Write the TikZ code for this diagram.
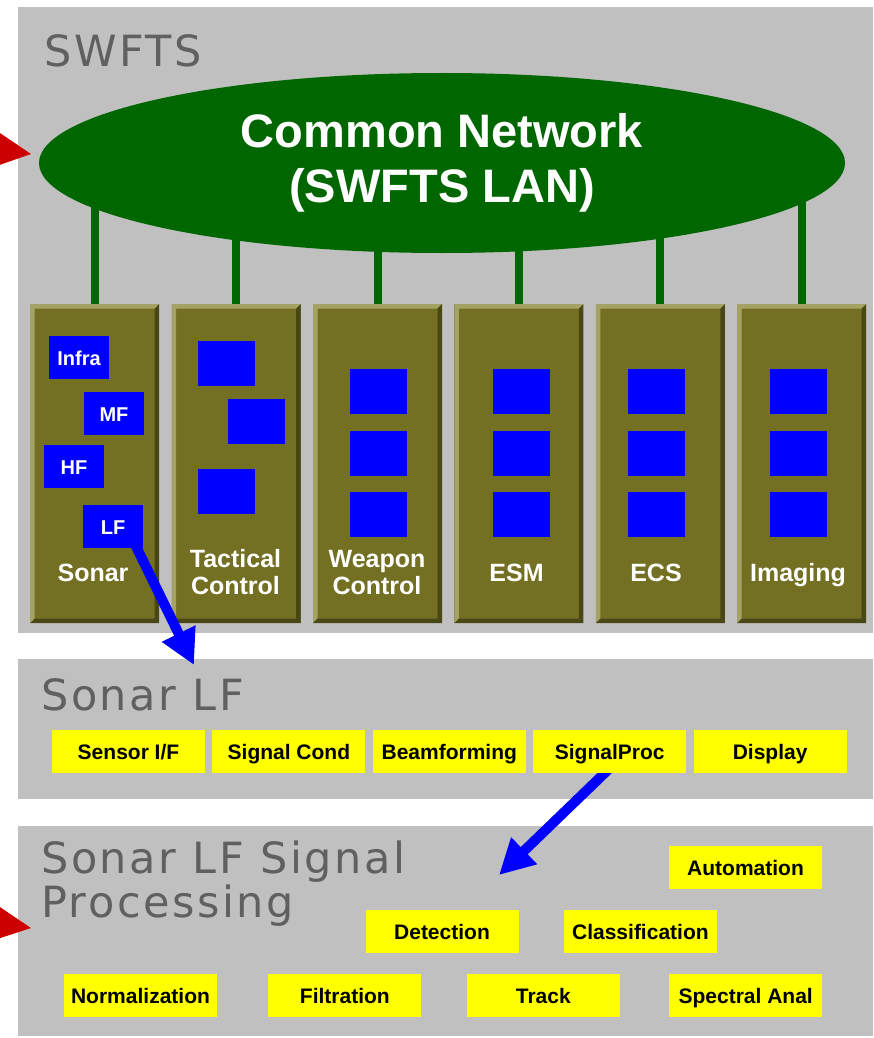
\documentclass[tikz,border=0pt]{standalone}
\usepackage{fontspec}
\setmainfont{Liberation Sans}
\newfontfamily\titlefont[LetterSpace=6]{DejaVu Sans}
\usetikzlibrary{positioning,shapes.geometric,arrows.meta}
\definecolor{panelgray}{HTML}{C0C0C0}
\definecolor{titlegray}{HTML}{606060}
\definecolor{langreen}{HTML}{006600}
\definecolor{colbody}{HTML}{737024}
\definecolor{colhi}{HTML}{A5A266}
\definecolor{colshade}{HTML}{4A4716}
\definecolor{feedred}{HTML}{CC0000}
\definecolor{funcyellow}{HTML}{FFFF00}
\definecolor{unitblue}{HTML}{0000FF}
\pgfdeclarelayer{back}
\pgfdeclarelayer{flows}
\pgfsetlayers{back,flows,main}

\begin{document}
\begin{tikzpicture}[x=1pt,y=-1pt
	,panel/.style={fill=panelgray, anchor=north west, inner sep=0pt, minimum width=855pt}
	,title/.style={anchor=base west, inner sep=0pt, text=titlegray, align=left, font=\titlefont\fontsize{43}{44}\selectfont}
	,lan/.style={ellipse, fill=langreen, inner sep=0pt, minimum width=806pt, minimum height=180pt, text=white, align=center, font=\bfseries\fontsize{47}{55}\selectfont}
	,link/.style={draw=langreen, line width=8pt}
	,column/.style={anchor=north west, fill=colbody, inner sep=0pt, minimum width=129pt, minimum height=319pt,
		path picture={
			\fill [colhi] (path picture bounding box.south west) -- (path picture bounding box.north west)
				-- (path picture bounding box.north east) -- ([shift={(-4.5pt,-4.5pt)}]path picture bounding box.north east)
				-- ([shift={(4.5pt,-4.5pt)}]path picture bounding box.north west) -- ([shift={(4.5pt,4.5pt)}]path picture bounding box.south west) -- cycle;
			\fill [colshade] (path picture bounding box.south west) -- (path picture bounding box.south east)
				-- (path picture bounding box.north east) -- ([shift={(-4.5pt,-4.5pt)}]path picture bounding box.north east)
				-- ([shift={(-4.5pt,4.5pt)}]path picture bounding box.south east) -- ([shift={(4.5pt,4.5pt)}]path picture bounding box.south west) -- cycle;
		}}
	,collabel/.style={anchor=base, inner sep=0pt, text=white, align=center, font=\bfseries\fontsize{25}{27}\selectfont}
	,unit/.style={fill=unitblue, inner sep=0pt, minimum width=57pt, minimum height=45pt, text height=16pt, text depth=0pt, text=white, font=\bfseries\fontsize{20}{22}\selectfont}
	,sonarunit/.style={unit, minimum width=60pt, minimum height=43pt}
	,func/.style={fill=funcyellow, inner sep=0pt, minimum width=153pt, minimum height=43pt, text height=16pt, text depth=0pt, font=\bfseries\fontsize{21}{23}\selectfont}
	,flow/.style={draw=unitblue, line width=10pt, -{Triangle[length=35pt,width=35pt]}}
	,feed/.style={fill=feedred}
]
	\useasboundingbox (0,0) rectangle (873,1038);

	\begin{pgfonlayer}{back}
	\node [panel, minimum height=626pt] (swfts) at (18,7) {};
	\node [panel, minimum height=140pt] (lfpanel) at (18,659) {};
	\node [panel, minimum height=210pt] (sppanel) at (18,826) {};
	\end{pgfonlayer}

	\node [title] (swftsTitle) at (44,67) {SWFTS};
	\node [title] (lfTitle) at (41,710) {Sonar LF};
	\node [title] (spTitle) at (41,917) {Sonar LF Signal\\Processing};

	\node [lan] (lan) at (442,163) {Common Network\\(SWFTS LAN)};

	\node [column] (sonar) at (30,304) {};
	\node [column, right=12pt of sonar] (tactical) {};
	\node [column, right=12pt of tactical] (weapon) {};
	\node [column, right=12pt of weapon] (esm) {};
	\node [column, right=12pt of esm] (ecs) {};
	\node [column, right=12pt of ecs] (imaging) {};

	\begin{pgfonlayer}{flows}
	\draw [link] (sonar.north) -- (sonar.north |- lan.center);
	\draw [link] (tactical.north) -- (tactical.north |- lan.center);
	\draw [link] (weapon.north) -- (weapon.north |- lan.center);
	\draw [link] (esm.north) -- (esm.north |- lan.center);
	\draw [link] (ecs.north) -- (ecs.north |- lan.center);
	\draw [link] (imaging.north) -- (imaging.north |- lan.center);
	\end{pgfonlayer}

	\node [sonarunit] (infra) at (79,357.5) {Infra};
	\node [sonarunit] (mf) at (114,413) {MF};
	\node [sonarunit] (hf) at (74,466.5) {HF};
	\node [sonarunit] (lf) at (113,526.5) {LF};
	\node [unit] (tac1) at (226.5,363.5) {};
	\node [unit] (tac2) at (256.5,421.5) {};
	\node [unit] (tac3) at (226.5,491.5) {};
	\node [unit] (wpn1) at (378.5,391.5) {};
	\node [unit] (wpn2) at (378.5,453.5) {};
	\node [unit] (wpn3) at (378.5,514) {};
	\node [unit] (esm1) at (521.5,391.5) {};
	\node [unit] (esm2) at (521.5,453.5) {};
	\node [unit] (esm3) at (521.5,514) {};
	\node [unit] (ecs1) at (656.5,391.5) {};
	\node [unit] (ecs2) at (656.5,453.5) {};
	\node [unit] (ecs3) at (656.5,514) {};
	\node [unit] (img1) at (798.5,391.5) {};
	\node [unit] (img2) at (798.5,453.5) {};
	\node [unit] (img3) at (798.5,514) {};

	\node [collabel] (sonarTxt) at (93,581) {Sonar};
	\node [collabel] (tacticalTxt) at (235.5,594) {Tactical\\Control};
	\node [collabel] (weaponTxt) at (377,594) {Weapon\\Control};
	\node [collabel] (esmTxt) at (516.5,581) {ESM};
	\node [collabel] (ecsTxt) at (656,581) {ECS};
	\node [collabel] (imagingTxt) at (798,581) {Imaging};

	\node [func] (sensor) at (128.5,751.5) {Sensor I/F};
	\node [func, right=7pt of sensor] (cond) {Signal Cond};
	\node [func, right=7pt of cond] (beam) {Beamforming};
	\node [func, right=7pt of beam] (sigproc) {SignalProc};
	\node [func, right=7pt of sigproc] (display) {Display};

	\node [func] (automation) at (745.5,867.5) {Automation};
	\node [func] (detection) at (442,931.5) {Detection};
	\node [func, right=45pt of detection] (classification) {Classification};
	\node [func] (normalization) at (140.5,995.5) {Normalization};
	\node [func, right=51pt of normalization] (filtration) {Filtration};
	\node [func, right=45pt of filtration] (track) {Track};
	\node [func, right=49pt of track] (spectral) {Spectral Anal};

	\coordinate (lfTip) at (194,665);
	\coordinate (spTip) at (499,875);
	\draw [flow] ([xshift=21pt,yshift=6pt]lf.south) -- (lfTip);
	\begin{pgfonlayer}{flows}
	\draw [flow] ([yshift=5pt]sigproc.south) -- (spTip);
	\end{pgfonlayer}

	\fill [feed] (-15,123) -- (31,154) -- (-15,170) -- cycle;
	\fill [feed] (-15,897) -- (31,928) -- (-15,943) -- cycle;
\end{tikzpicture}
\end{document}
